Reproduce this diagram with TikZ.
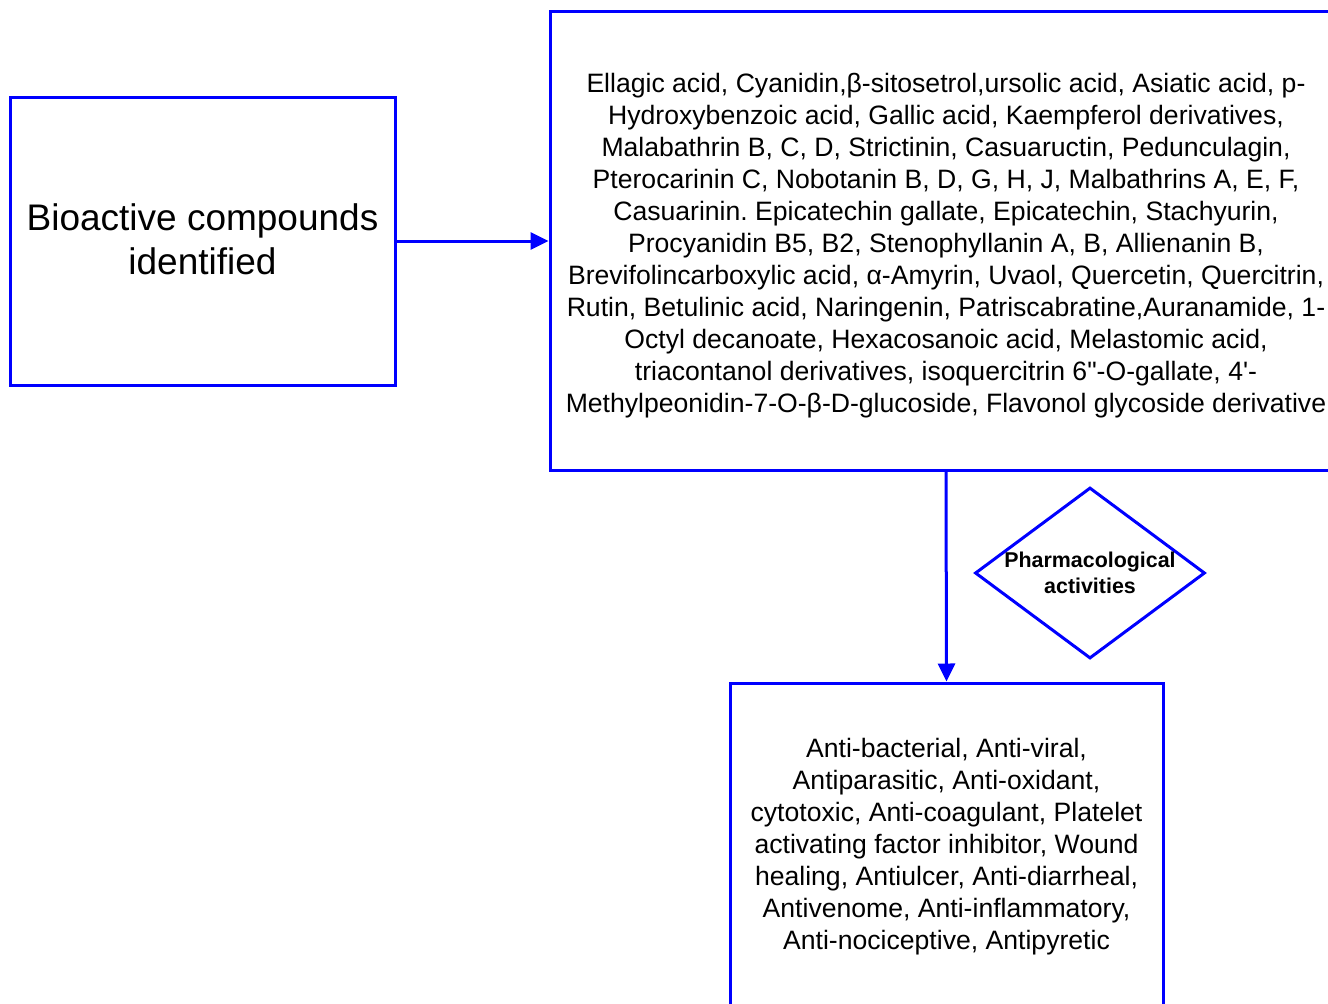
\documentclass[tikz,border=0pt]{standalone}
\usepackage{fontspec}
\setmainfont{Liberation Sans}
\usetikzlibrary{shapes.geometric, arrows.meta}
\definecolor{FlowBlue}{RGB}{0,0,255}
\frenchspacing

\begin{document}
\begin{tikzpicture}[x=1pt, y=-1pt,
    box/.style={rectangle, draw=FlowBlue, line width=3pt, inner sep=0pt},
    txt/.style={align=center, inner sep=0pt, font=\fontsize{26.6}{32}\selectfont},
    dec/.style={diamond, draw=FlowBlue, line width=3pt, align=center,
                inner sep=-20pt, shape aspect=1.345, minimum width=230pt,
                minimum height=171pt, font=\bfseries\fontsize{21.4}{26}\selectfont},
    flow/.style={draw=FlowBlue, line width=3pt,
                 -{Triangle[length=18pt, width=17pt]}}
  ]
  \clip (0,0) rectangle (1328,1004);
  \fill[white] (0,0) rectangle (1328,1004);

  % Left box
  \node[box, minimum width=385pt, minimum height=288pt] (bio) at (202.5,241) {};
  \node[txt, font=\fontsize{37}{44}\selectfont] (biotxt) at ([yshift=2pt]bio.center)
        {Bioactive compounds\\identified};

  % Compounds
  \node[box, minimum width=792pt, minimum height=459pt] (cmpd) at (946,240.5) {};
  \node[txt] (cmpdtxt) at ([yshift=-5pt]cmpd.center)
        {Ellagic acid, Cyanidin,β-sitosetrol,ursolic acid, Asiatic acid, p-\\
         Hydroxybenzoic acid, Gallic acid, Kaempferol derivatives,\\
         Malabathrin B, C, D, Strictinin, Casuaructin, Pedunculagin,\\
         Pterocarinin C, Nobotanin B, D, G, H, J, Malbathrins A, E, F,\\
         Casuarinin. Epicatechin gallate, Epicatechin, Stachyurin,\\
         Procyanidin B5, B2, Stenophyllanin A, B, Allienanin B,\\
         Brevifolincarboxylic acid, α-Amyrin, Uvaol, Quercetin, Quercitrin,\\
         Rutin, Betulinic acid, Naringenin, Patriscabratine,Auranamide, 1-\\
         Octyl decanoate, Hexacosanoic acid, Melastomic acid,\\
         triacontanol derivatives, isoquercitrin 6\textquotedbl-O-gallate, 4\textquotesingle-\\
         Methylpeonidin-7-O-β-D-glucoside, Flavonol glycoside derivative};

  % Activities
  \node[box, minimum width=433pt, minimum height=322pt] (acts) at (946.5,844) {};
  \node[txt] (actstxt) at ([yshift=-3pt]acts.center)
        {Anti-bacterial, Anti-viral,\\
         Antiparasitic, Anti-oxidant,\\
         cytotoxic, Anti-coagulant, Platelet\\
         activating factor inhibitor, Wound\\
         healing, Antiulcer, Anti-diarrheal,\\
         Antivenome, Anti-inflammatory,\\
         Anti-nociceptive, Antipyretic};

  % Decision label
  \node[dec] (pharm) at (1090,573) {Pharmacological\\activities};

  % Connectors
  \draw[flow] (bio.east) -- (bio.east -| cmpd.west);
  \draw[flow] (cmpd.south) -- (acts.north);
\end{tikzpicture}
\end{document}
